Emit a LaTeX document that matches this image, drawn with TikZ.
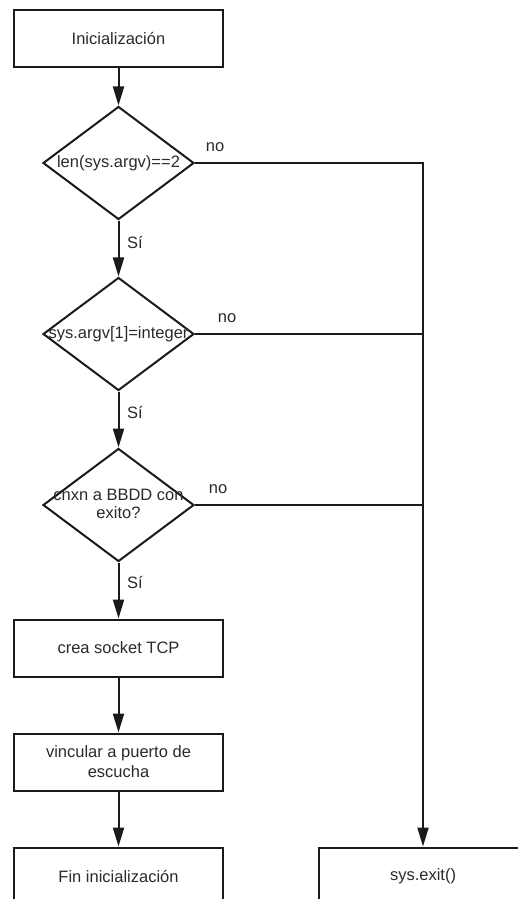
\documentclass[tikz,border=0pt]{standalone}
\usepackage{fontspec}
\setmainfont{Liberation Sans}
\usetikzlibrary{shapes.geometric,arrows.meta}
\definecolor{ink}{HTML}{1A1A1A}
\definecolor{txt}{HTML}{2A2A2A}
\begin{document}
\begin{tikzpicture}[x=1pt,y=-1pt,
  font=\fontsize{16.5}{20}\selectfont,
  every node/.style={text=txt},
  procbox/.style={draw=ink,line width=2pt,rectangle,minimum width=209pt,minimum height=57pt,inner sep=0pt,align=center},
  decision/.style={draw=ink,line width=2pt,diamond,minimum width=151pt,minimum height=113pt,inner sep=0pt},
  flow/.style={draw=ink,line width=2pt,-{Triangle[length=19pt,width=11pt]}},
  plain/.style={draw=ink,line width=2pt},
  tag/.style={inner sep=0pt}]
\useasboundingbox (0,0) rectangle (517,899);

% process boxes
\node[procbox] (init) at (118.5,38.5) {Inicialización};
\node[procbox] (sock) at (118.5,648) {crea socket TCP};
\node[procbox] (bind) at (118.5,762) {vincular a puerto de\\escucha};
\node[procbox] (fin)  at (118.5,876) {Fin inicialización};
\node[procbox] (exit) at (423,876)   {sys.exit()};

% decisions
\node[decision] (d1) at (118.5,163) {\makebox[0pt]{len(sys.argv)==2}};
\node[decision] (d2) at (118.5,334) {\makebox[0pt]{sys.argv[1]=integer}};
\node[decision] (d3) at (118.5,505) {\makebox[0pt]{\begin{tabular}{@{}c@{}}cnxn a BBDD con\\[-2pt]exito?\end{tabular}}};

% main flow
\draw[flow] (init) -- (d1);
\draw[flow] (d1) -- (d2);
\draw[flow] (d2) -- (d3);
\draw[flow] (d3) -- (sock);
\draw[flow] (sock) -- (bind);
\draw[flow] (bind) -- (fin);

% failure branches to sys.exit()
\draw[flow] (d1.east) -- (d1.east -| exit.north) -- (exit.north);
\draw[plain] (d2.east) -- (d2.east -| exit.north);
\draw[plain] (d3.east) -- (d3.east -| exit.north);

% branch labels
\node[tag] (n1) at (215,147) {no};
\node[tag] (n2) at (227,318) {no};
\node[tag] (n3) at (218,489) {no};
\node[tag,anchor=west] (s1) at (127,243) {Sí};
\node[tag,anchor=west] (s2) at (127,413) {Sí};
\node[tag,anchor=west] (s3) at (127,582) {Sí};
\end{tikzpicture}
\end{document}
